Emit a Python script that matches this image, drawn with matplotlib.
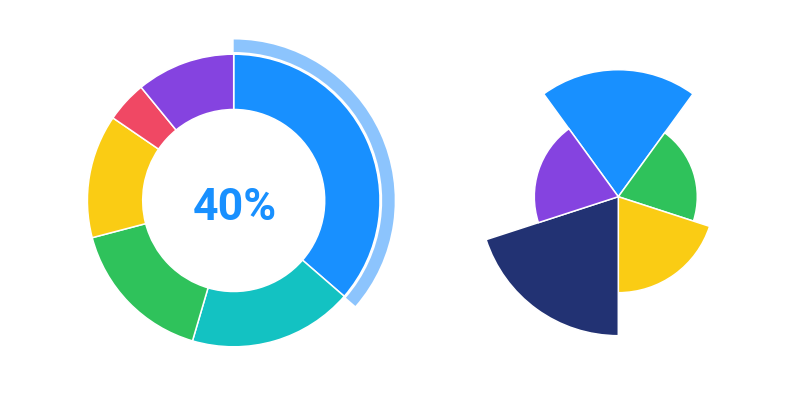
import matplotlib
matplotlib.use("Agg")
import matplotlib.pyplot as plt
import numpy as np

# donut (left)
donut_labels = ["A", "B", "C", "D", "E", "F"]
donut_values = [40, 20, 18, 15, 5, 12]
donut_colors = ["#1890FF", "#13C2C2", "#2FC25B", "#FACC14", "#F04864", "#8543E0"]
center_text = "40%"

# rose (right), clockwise from top
rose_labels = ["A", "B", "C", "D", "E"]
rose_values = [127, 79, 96, 139, 84]
rose_colors = ["#1890FF", "#2FC25B", "#FACC14", "#223273", "#8543E0"]

W, H = 800, 400
fig = plt.figure(figsize=(8, 4), dpi=100)
fig.patch.set_facecolor("white")


def px_axes(cx, cy, half, **kw):
    # axes centred on pixel (cx, cy) measured from the top-left corner
    return fig.add_axes([(cx - half) / W, (H - cy - half) / H, 2 * half / W, 2 * half / H], **kw)


# ---- donut ----
R_OUT, R_IN = 146.3, 91
ax = px_axes(233.7, 200.5, 175)
ax.pie(donut_values, colors=donut_colors, radius=R_OUT, startangle=90, counterclock=False,
       wedgeprops=dict(width=R_OUT - R_IN, edgecolor="white", linewidth=1.1))
# highlight arc on the first slice
rest = sum(donut_values) - donut_values[0]
ax.pie([donut_values[0], rest], colors=["#8CC4FD", "none"], radius=161, startangle=90,
       counterclock=False, wedgeprops=dict(width=12.5, linewidth=0))
ax.text(1, -7, center_text, ha="center", va="center", fontsize=32, fontweight="bold",
        color="#1890FF", family="Roboto")
ax.set_xlim(-175, 175)
ax.set_ylim(-175, 175)
ax.set_aspect("equal")
ax.axis("off")

# ---- rose ----
pax = px_axes(618.3, 196.7, 150, projection="polar")
n = len(rose_values)
theta = np.arange(n) * 2 * np.pi / n
pax.set_theta_zero_location("N")
pax.set_theta_direction(-1)
pax.bar(theta, rose_values, width=2 * np.pi / n, bottom=0, color=rose_colors,
        edgecolor="white", linewidth=1.1)
pax.set_rlim(0, 150)
pax.axis("off")

fig.savefig("out.png", dpi=100)
